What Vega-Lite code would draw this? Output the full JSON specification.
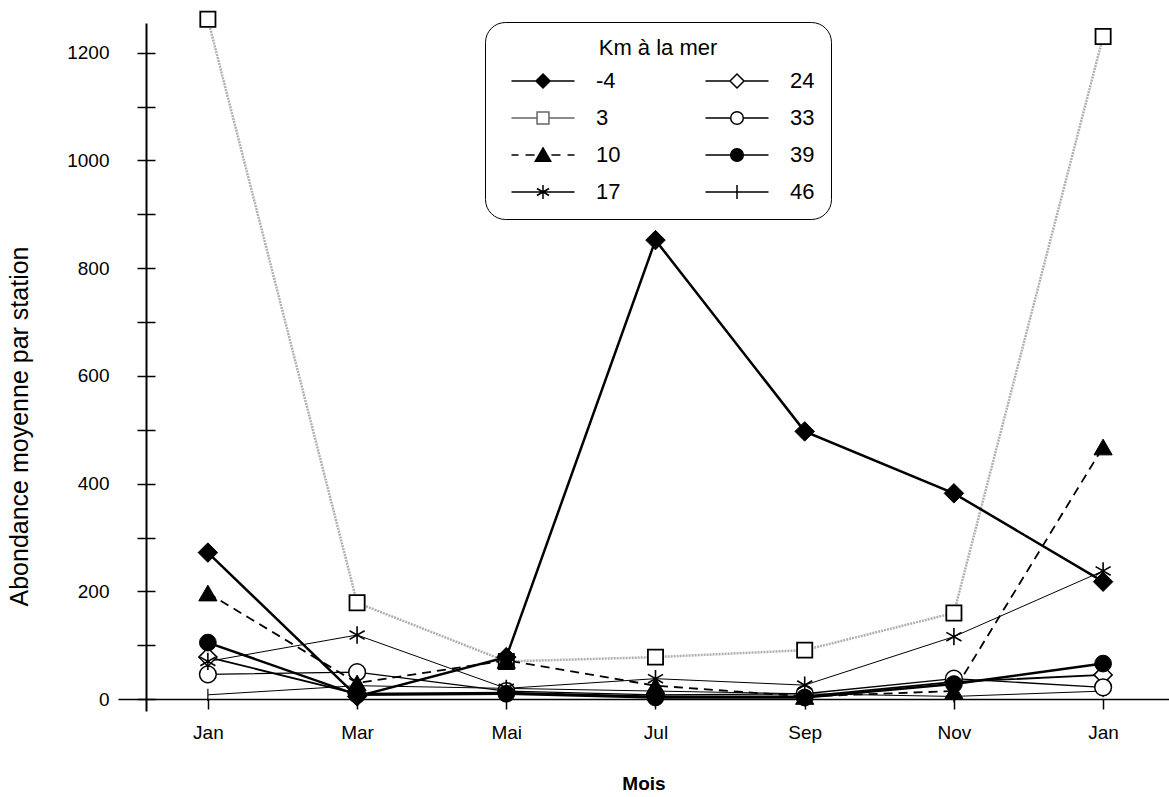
{
  "$schema": "https://vega.github.io/schema/vega-lite/v6.json",
  "autosize": "none",
  "padding": {"left": 118, "top": 23, "right": 0, "bottom": 86},
  "width": 1051,
  "height": 688,
  "background": "white",
  "config": {
    "font": "Liberation Sans",
    "view": {"stroke": null},
    "axis": {"labelColor": "black", "titleColor": "black", "tickColor": "black", "domainColor": "black", "labelFont": "Liberation Sans", "titleFont": "Liberation Sans"},
    "legend": {"labelFont": "Liberation Sans", "titleFont": "Liberation Sans"}
  },
  "data": {
    "values": [
      {"mois": "Jan", "km": "-4", "v": 272}, {"mois": "Mar", "km": "-4", "v": 5}, {"mois": "Mai", "km": "-4", "v": 78}, {"mois": "Jul", "km": "-4", "v": 852}, {"mois": "Sep", "km": "-4", "v": 497}, {"mois": "Nov", "km": "-4", "v": 382}, {"mois": "Jan+1", "km": "-4", "v": 218},
      {"mois": "Jan", "km": "3", "v": 1262}, {"mois": "Mar", "km": "3", "v": 179}, {"mois": "Mai", "km": "3", "v": 70}, {"mois": "Jul", "km": "3", "v": 78}, {"mois": "Sep", "km": "3", "v": 91}, {"mois": "Nov", "km": "3", "v": 160}, {"mois": "Jan+1", "km": "3", "v": 1230},
      {"mois": "Jan", "km": "10", "v": 197}, {"mois": "Mar", "km": "10", "v": 30}, {"mois": "Mai", "km": "10", "v": 72}, {"mois": "Jul", "km": "10", "v": 25}, {"mois": "Sep", "km": "10", "v": 5}, {"mois": "Nov", "km": "10", "v": 15}, {"mois": "Jan+1", "km": "10", "v": 468},
      {"mois": "Jan", "km": "17", "v": 70}, {"mois": "Mar", "km": "17", "v": 119}, {"mois": "Mai", "km": "17", "v": 20}, {"mois": "Jul", "km": "17", "v": 38}, {"mois": "Sep", "km": "17", "v": 26}, {"mois": "Nov", "km": "17", "v": 116}, {"mois": "Jan+1", "km": "17", "v": 238},
      {"mois": "Jan", "km": "24", "v": 78}, {"mois": "Mar", "km": "24", "v": 10}, {"mois": "Mai", "km": "24", "v": 12}, {"mois": "Jul", "km": "24", "v": 5}, {"mois": "Sep", "km": "24", "v": 5}, {"mois": "Nov", "km": "24", "v": 32}, {"mois": "Jan+1", "km": "24", "v": 45},
      {"mois": "Jan", "km": "33", "v": 46}, {"mois": "Mar", "km": "33", "v": 50}, {"mois": "Mai", "km": "33", "v": 15}, {"mois": "Jul", "km": "33", "v": 8}, {"mois": "Sep", "km": "33", "v": 10}, {"mois": "Nov", "km": "33", "v": 38}, {"mois": "Jan+1", "km": "33", "v": 22},
      {"mois": "Jan", "km": "39", "v": 105}, {"mois": "Mar", "km": "39", "v": 8}, {"mois": "Mai", "km": "39", "v": 10}, {"mois": "Jul", "km": "39", "v": 3}, {"mois": "Sep", "km": "39", "v": 3}, {"mois": "Nov", "km": "39", "v": 28}, {"mois": "Jan+1", "km": "39", "v": 66},
      {"mois": "Jan", "km": "46", "v": 8}, {"mois": "Mar", "km": "46", "v": 25}, {"mois": "Mai", "km": "46", "v": 20}, {"mois": "Jul", "km": "46", "v": 15}, {"mois": "Sep", "km": "46", "v": 10}, {"mois": "Nov", "km": "46", "v": 5}, {"mois": "Jan+1", "km": "46", "v": 15}
    ]
  },
  "encoding": {
    "x": {
      "field": "mois", "type": "ordinal",
      "scale": {"type": "point", "domain": ["Jan", "Mar", "Mai", "Jul", "Sep", "Nov", "Jan+1"], "padding": 0.522, "align": 0.577},
      "axis": {"title": "Mois", "titleFontSize": 19, "titleFontWeight": "bold", "titlePadding": 32, "labelExpr": "slice(datum.label, 0, 3)", "labelFontSize": 19, "labelPadding": 14, "labelAngle": 0, "tickSize": 10, "tickWidth": 1.5, "domainWidth": 1.5, "offset": -12, "grid": false}
    },
    "y": {
      "field": "v", "type": "quantitative",
      "scale": {"domain": [-22, 1255], "nice": false, "zero": false},
      "axis": {"title": "Abondance moyenne par station", "titleFontSize": 25, "titleFontWeight": "normal", "titlePadding": 34, "titleY": 403, "values": [0, 100, 200, 300, 400, 500, 600, 700, 800, 900, 1000, 1100, 1200], "labelExpr": "datum.value % 200 === 0 ? datum.label : ''", "format": "d", "labelFontSize": 19, "labelPadding": 28, "tickSize": 9, "tickWidth": 1.5, "domainWidth": 2, "offset": -28, "grid": true, "gridColor": "black", "gridWidth": 1.5, "gridOpacity": 1, "gridDash": [9, 3000], "gridDashOffset": -28}
    },
    "order": {"value": null}
  },
  "layer": [
    {"transform": [{"filter": "datum.km === '3'"}], "mark": {"type": "line", "stroke": "#b0b0b0", "strokeWidth": 2.5, "strokeDash": [2, 1]}},
    {"transform": [{"filter": "datum.km === '46'"}], "mark": {"type": "line", "stroke": "black", "strokeWidth": 1}},
    {"transform": [{"filter": "datum.km === '17'"}], "mark": {"type": "line", "stroke": "black", "strokeWidth": 1}},
    {"transform": [{"filter": "datum.km === '33'"}], "mark": {"type": "line", "stroke": "black", "strokeWidth": 1.3}},
    {"transform": [{"filter": "datum.km === '24'"}], "mark": {"type": "line", "stroke": "black", "strokeWidth": 1.8}},
    {"transform": [{"filter": "datum.km === '39'"}], "mark": {"type": "line", "stroke": "black", "strokeWidth": 2.5}},
    {"transform": [{"filter": "datum.km === '10'"}], "mark": {"type": "line", "stroke": "black", "strokeWidth": 1.8, "strokeDash": [9, 6]}},
    {"transform": [{"filter": "datum.km === '-4'"}], "mark": {"type": "line", "stroke": "black", "strokeWidth": 2.5}},
    {"transform": [{"filter": "datum.km === '3'"}], "mark": {"type": "point", "shape": "square", "size": 230, "filled": true, "fill": "white", "stroke": "black", "strokeWidth": 1.8, "opacity": 1}},
    {"transform": [{"filter": "datum.km === '46'"}], "mark": {"type": "point", "shape": "M0,-1V1", "size": 150, "filled": false, "stroke": "black", "strokeWidth": 1.2, "opacity": 1}},
    {"transform": [{"filter": "datum.km === '24'"}], "mark": {"type": "point", "shape": "diamond", "size": 330, "filled": true, "fill": "white", "stroke": "black", "strokeWidth": 1.5, "opacity": 1}},
    {"transform": [{"filter": "datum.km === '33'"}], "mark": {"type": "point", "shape": "circle", "size": 280, "filled": true, "fill": "white", "stroke": "black", "strokeWidth": 1.5, "opacity": 1}},
    {"transform": [{"filter": "datum.km === '39'"}], "mark": {"type": "point", "shape": "circle", "size": 280, "filled": true, "fill": "black", "stroke": "black", "strokeWidth": 1, "opacity": 1}},
    {"transform": [{"filter": "datum.km === '10'"}], "mark": {"type": "point", "shape": "triangle-up", "size": 330, "filled": true, "fill": "black", "stroke": "black", "strokeWidth": 1, "opacity": 1}},
    {"transform": [{"filter": "datum.km === '-4'"}], "mark": {"type": "point", "shape": "diamond", "size": 380, "filled": true, "fill": "black", "stroke": "black", "strokeWidth": 1, "opacity": 1}},
    {"transform": [{"filter": "datum.km === '17'"}], "mark": {"type": "point", "shape": "M0,-1V1M-0.87,-0.5L0.87,0.5M-0.87,0.5L0.87,-0.5", "size": 300, "filled": false, "stroke": "black", "strokeWidth": 1.6, "opacity": 1}},
    {
      "transform": [{"filter": "datum.km === 'aucun'"}],
      "mark": {"type": "point", "filled": true, "opacity": 1},
      "encoding": {
        "shape": {"field": "km", "type": "nominal", "title": "Km à la mer",
          "scale": {"domain": ["-4", "3", "10", "17", "24", "33", "39", "46"],
            "range": ["M-4.5,0H-1M1,0H4.5M0,-1L1,0L0,1L-1,0Z", "M-4.5,0H-0.85M0.85,0H4.5M-0.85,-0.85H0.85V0.85H-0.85Z", "M-4.5,0H-3.5M-2.5,0H-1.2M1.2,0H2.5M3.5,0H4.5M0,-1L1.1,0.9H-1.1Z", "M-4.5,0H4.5M0,-1V1M-0.87,-0.5L0.87,0.5M-0.87,0.5L0.87,-0.5", "M-4.5,0H-1M1,0H4.5M0,-1L1,0L0,1L-1,0Z", "M-4.5,0H-0.9M0.9,0H4.5M-0.9,0A0.9,0.9,0,1,0,0.9,0A0.9,0.9,0,1,0,-0.9,0Z", "M-4.5,0H-0.9M0.9,0H4.5M-0.9,0A0.9,0.9,0,1,0,0.9,0A0.9,0.9,0,1,0,-0.9,0Z", "M-4.5,0H4.5M0,-1V1"]},
          "legend": {"orient": "none", "legendX": 367, "legendY": -1, "columns": 2, "columnPadding": 74, "rowPadding": 15, "gridAlign": "all", "symbolSize": 196, "symbolOffset": 31, "symbolStrokeWidth": 1.5, "labelOffset": 42, "labelFontSize": 22, "labelColor": "black", "titleFontSize": 22, "titleFontWeight": "normal", "titleColor": "black", "titleAnchor": "middle", "titlePadding": 10, "padding": 16, "strokeColor": "black", "fillColor": "white", "cornerRadius": 20}
        },
        "fill": {"field": "km", "type": "nominal", "title": "Km à la mer",
          "scale": {"domain": ["-4", "3", "10", "17", "24", "33", "39", "46"], "range": ["black", "white", "black", "white", "white", "white", "black", "white"]},
          "legend": {"orient": "none", "legendX": 367, "legendY": -1, "columns": 2, "columnPadding": 74, "rowPadding": 15, "gridAlign": "all", "symbolSize": 196, "symbolOffset": 31, "symbolStrokeWidth": 1.5, "labelOffset": 42, "labelFontSize": 22, "labelColor": "black", "titleFontSize": 22, "titleFontWeight": "normal", "titleColor": "black", "titleAnchor": "middle", "titlePadding": 10, "padding": 16, "strokeColor": "black", "fillColor": "white", "cornerRadius": 20}
        },
        "stroke": {"field": "km", "type": "nominal", "title": "Km à la mer",
          "scale": {"domain": ["-4", "3", "10", "17", "24", "33", "39", "46"], "range": ["black", "#666666", "black", "black", "black", "black", "black", "black"]},
          "legend": {"orient": "none", "legendX": 367, "legendY": -1, "columns": 2, "columnPadding": 74, "rowPadding": 15, "gridAlign": "all", "symbolSize": 196, "symbolOffset": 31, "symbolStrokeWidth": 1.5, "labelOffset": 42, "labelFontSize": 22, "labelColor": "black", "titleFontSize": 22, "titleFontWeight": "normal", "titleColor": "black", "titleAnchor": "middle", "titlePadding": 10, "padding": 16, "strokeColor": "black", "fillColor": "white", "cornerRadius": 20}
        }
      }
    }
  ]
}
